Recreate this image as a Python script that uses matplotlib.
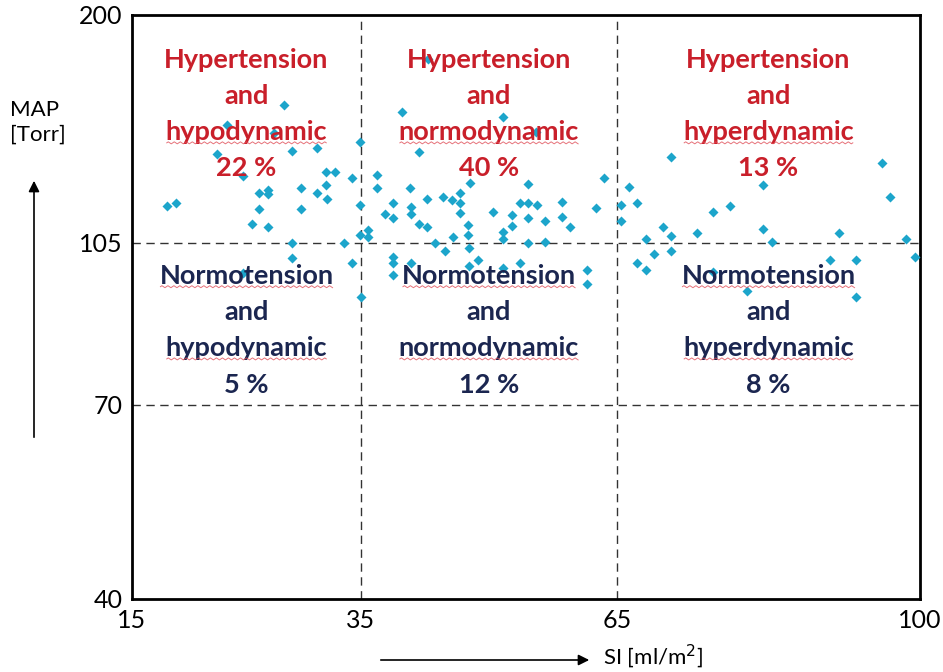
import numpy as np
import matplotlib
matplotlib.use('Agg')
import matplotlib.pyplot as plt
from matplotlib.patches import FancyArrowPatch
from matplotlib.lines import Line2D

plt.rcParams.update({
    'font.family': ['Lato', 'DejaVu Sans'],
    'font.size': 16,
})

# stroke index SI [ml/m2] and mean arterial pressure MAP [Torr] per patient
si = [18.1, 18.8, 22.4, 23.3, 24.7, 25.5, 26.1, 26.9, 26.9, 26.1,
      26.9, 27.4, 28.3, 29.0, 29.0, 29.0, 24.7, 29.8, 29.8, 31.2,
      31.2, 31.9, 32.7, 31.9, 32.0, 34.2, 33.5, 34.2, 34.9, 34.9,
      34.9, 35.0, 35.8, 35.8, 36.9, 36.9, 37.8, 38.8, 38.8, 38.8,
      38.8, 38.8, 39.8, 40.7, 40.9, 40.9, 40.9, 41.8, 41.8, 42.7,
      42.7, 42.9, 43.7, 44.6, 44.8, 45.7, 45.8, 46.6, 46.6, 46.6,
      47.5, 47.5, 47.8, 47.7, 47.7, 48.7, 50.5, 51.6, 51.6, 51.6,
      51.6, 52.7, 52.7, 53.6, 53.6, 54.6, 54.6, 54.6, 54.6, 55.5,
      55.6, 56.6, 56.6, 58.6, 58.6, 59.5, 61.5, 61.5, 62.5, 63.5,
      65.5, 65.5, 66.4, 67.3, 67.3, 68.3, 68.3, 69.3, 70.3, 71.2,
      71.2, 71.2, 74.2, 76.1, 76.1, 78.1, 80.0, 81.9, 81.9, 82.9,
      89.6, 90.6, 92.6, 92.6, 95.6, 96.5, 98.4, 99.4]
mean_ap = [120.4, 121.7, 142.1, 154.2, 132.9, 112.9, 125.8, 127.1, 125.4, 119.2,
           111.7, 150.8, 162.5, 143.3, 105.0, 101.8, 98.5, 127.9, 119.2, 144.6,
           125.8, 134.6, 134.6, 129.2, 123.3, 132.1, 105.0, 100.7, 147.1, 120.8,
           108.3, 93.3, 110.4, 107.5, 133.3, 127.9, 117.1, 121.7, 115.4, 102.0,
           100.7, 98.1, 159.6, 127.9, 120.0, 117.1, 100.7, 142.9, 112.9, 123.3,
           111.7, 181.7, 105.0, 124.2, 103.3, 122.9, 107.5, 125.8, 121.7, 117.5,
           112.5, 108.3, 130.0, 103.9, 100.0, 101.3, 117.9, 157.5, 109.6, 106.7,
           99.6, 116.7, 112.1, 121.7, 100.7, 129.6, 121.7, 115.4, 105.0, 151.3,
           120.8, 114.2, 105.4, 122.1, 115.8, 111.7, 99.2, 96.1, 119.6, 132.1,
           120.8, 114.2, 128.3, 121.7, 100.7, 106.7, 99.2, 102.6, 111.7, 140.8,
           107.9, 103.3, 109.2, 117.9, 98.7, 120.4, 94.6, 129.2, 110.8, 105.4,
           101.3, 109.2, 101.3, 93.3, 138.3, 124.2, 106.7, 102.0]

# axis break values (also the class limits) and their spacing along each axis
si_ticks = [15, 35, 65, 100]
map_ticks = [40, 70, 105, 200]
si_pos = [0, 229, 485, 788]
map_pos = [0, 194, 356, 584]

# class labels, one list of lines per quadrant
pressure = ['Hypertension', 'Normotension']
dynamics = ['hypodynamic', 'normodynamic', 'hyperdynamic']
share_high = ['22 %', '40 %', '13 %']
share_normal = ['5 %', '12 %', '8 %']

fig = plt.figure(figsize=(9.43, 6.72), dpi=100)
ax = fig.add_axes([132 / 943, 73 / 672, 788 / 943, 584 / 672])

ax.set_xscale('function', functions=(lambda v: np.interp(v, si_ticks, si_pos),
                                     lambda p: np.interp(p, si_pos, si_ticks)))
ax.set_yscale('function', functions=(lambda v: np.interp(v, map_ticks, map_pos),
                                     lambda p: np.interp(p, map_pos, map_ticks)))
ax.set_xlim(si_ticks[0], si_ticks[-1])
ax.set_ylim(map_ticks[0], map_ticks[-1])

ax.scatter(si, mean_ap, marker='D', s=26, color='#1ca5cb', linewidths=0, zorder=3)

dash = dict(color='#333333', lw=1.0, ls=(0, (6, 4)), zorder=2)
for v in si_ticks[1:-1]:
    ax.axvline(v, **dash)
for v in map_ticks[1:-1]:
    ax.axhline(v, **dash)

ax.set_xticks(si_ticks)
ax.set_xticklabels([str(t) for t in si_ticks])
ax.set_yticks(map_ticks)
ax.set_yticklabels([str(t) for t in map_ticks])
ax.tick_params(length=0, labelsize=18, pad=7)
for sp in ax.spines.values():
    sp.set_linewidth(2.0)
    sp.set_color('black')

# quadrant labels, centred in each SI band; spell-check style squiggle under some words
trans = ax.get_xaxis_transform()
LINE_STEP = 26.0  # points between baselines
squiggle = []
for i, (lo, hi) in enumerate(zip(si_ticks[:-1], si_ticks[1:])):
    mid = np.interp((np.interp(lo, si_ticks, si_pos) + np.interp(hi, si_ticks, si_pos)) / 2,
                    si_pos, si_ticks)
    blocks = [(0.830, '#c91f2a', [pressure[0], 'and', dynamics[i], share_high[i]], [2]),
              (0.460, '#1b2650', [pressure[1], 'and', dynamics[i], share_normal[i]], [0, 2])]
    for yc, col, lines, marked in blocks:
        for k, line in enumerate(lines):
            t = ax.annotate(line, (mid, yc), xycoords=trans,
                            xytext=(0, (1.5 - k) * LINE_STEP), textcoords='offset points',
                            ha='center', va='center', color=col, fontsize=19.5,
                            fontweight='bold', zorder=4)
            if k in marked:
                squiggle.append(t)

fig.canvas.draw()
renderer = fig.canvas.get_renderer()
for t in squiggle:
    bb = t.get_window_extent(renderer)
    xs = np.linspace(bb.x0 + 1, bb.x1 - 1, int((bb.x1 - bb.x0) / 1.5))
    ys = bb.y0 + 1.5 + 1.0 * np.sin(np.arange(len(xs)) * np.pi / 2)
    fxy = fig.transFigure.inverted().transform(np.column_stack([xs, ys]))
    fig.add_artist(Line2D(fxy[:, 0], fxy[:, 1], transform=fig.transFigure,
                          color='#e0505a', lw=0.7, alpha=0.8))

# axis titles with direction arrows
fig.text(10 / 943, 1 - 122 / 672, 'MAP\n[Torr]', ha='left', va='center',
         fontsize=16, linespacing=1.3)
fig.add_artist(FancyArrowPatch(
    (34 / 943, 1 - 440 / 672), (34 / 943, 1 - 178 / 672), transform=fig.transFigure,
    arrowstyle='-|>', mutation_scale=16, lw=1.2, color='black'))
fig.add_artist(FancyArrowPatch(
    (378 / 943, 1 - 660 / 672), (592 / 943, 1 - 660 / 672), transform=fig.transFigure,
    arrowstyle='-|>', mutation_scale=16, lw=1.2, color='black'))
fig.text(603 / 943, 1 - 656 / 672, 'SI [ml/m$^2$]', ha='left', va='center', fontsize=16)

fig.savefig('out.png', dpi=100, facecolor='white')
